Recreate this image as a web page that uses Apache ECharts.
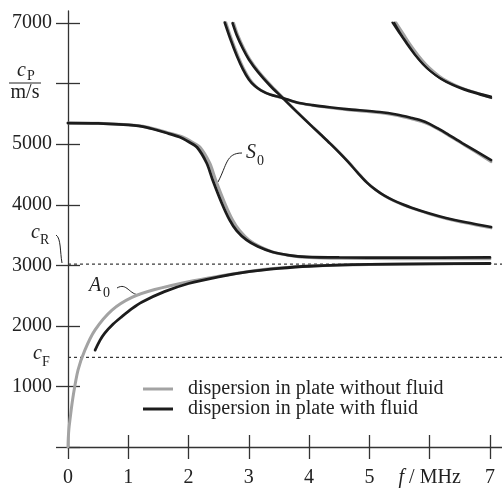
<!DOCTYPE html>
<html>
<head>
<meta charset="utf-8">
<script src="https://cdn.jsdelivr.net/npm/echarts@6.0.0/dist/echarts.min.js"></script>
<style>
  html, body { margin: 0; padding: 0; background: #fff; }
  #chart { width: 502px; height: 488px; }
</style>
</head>
<body>
<div id="chart"></div>
<script>
// axis ticks / labels
const xTicks = [0, 1, 2, 3, 4, 5, 6, 7]
const xLabels = ['0', '1', '2', '3', '4', '5', '{it|f} / MHz', '7']
const yTicks = [0, 1000, 2000, 3000, 4000, 5000, 6000, 7000]
const yLabels = ['', '1000', '2000', '3000', '4000', '5000', '', '7000']

// reference velocities (m/s)
const cR = 3020
const cF = 1480

// [f in MHz, c_P in m/s] -- plate without fluid (grey)
const s0Free = [[0, 5350], [0.5, 5345], [1, 5320], [1.3, 5285], [1.64, 5195], [1.9, 5120], [2.05, 5040], [2.19, 4950], [2.35, 4690], [2.45, 4410], [2.6, 4030], [2.73, 3750], [2.85, 3570], [3.0, 3420], [3.2, 3300], [3.43, 3210], [3.7, 3160], [4.0, 3130], [4.5, 3115], [5.5, 3110], [7, 3110]]
const a0Free = [[0, 0], [0.005, 150], [0.015, 300], [0.03, 430], [0.083, 825], [0.166, 1270], [0.28, 1600], [0.447, 1930], [0.73, 2260], [1.06, 2470], [1.44, 2600], [2.0, 2730], [2.5, 2820], [3.0, 2900], [3.5, 2955], [4, 2990], [5, 3015], [6, 3025], [7, 3030]]
const m1Free = [[2.62, 7010], [2.72, 6720], [2.82, 6460], [2.92, 6240], [3.02, 6070], [3.12, 5955], [3.22, 5880], [3.37, 5815], [3.58, 5755], [3.82, 5680], [4.08, 5635], [4.36, 5598], [4.64, 5567], [5.19, 5515], [5.47, 5472], [5.73, 5410], [5.87, 5372], [6.01, 5315], [6.15, 5240], [6.29, 5160], [6.56, 4995], [7.02, 4710]]
const m2Free = [[2.75, 7000], [2.82, 6800], [2.92, 6580], [3.02, 6400], [3.17, 6195], [3.37, 5970], [3.58, 5755], [3.82, 5515], [4.08, 5268], [4.22, 5137], [4.37, 4995], [4.52, 4847], [4.67, 4690], [4.82, 4520], [4.97, 4360], [5.12, 4235], [5.27, 4135], [5.42, 4057], [5.57, 3993], [5.72, 3937], [6.02, 3840], [6.29, 3767], [6.62, 3694], [7.02, 3615]]
const m3Free = [[5.44, 7010], [5.56, 6830], [5.67, 6660], [5.81, 6470], [5.94, 6320], [6.08, 6190], [6.22, 6085], [6.41, 5985], [6.6, 5905], [6.84, 5830], [7.02, 5765]]

// plate with fluid (black)
const s0Fluid = [[0, 5350], [0.5, 5345], [1, 5318], [1.3, 5280], [1.64, 5185], [1.85, 5118], [2.0, 5040], [2.14, 4950], [2.3, 4690], [2.4, 4410], [2.55, 4030], [2.68, 3750], [2.8, 3570], [2.96, 3420], [3.15, 3310], [3.39, 3220], [3.65, 3170], [3.96, 3140], [4.5, 3130], [5.5, 3128], [7, 3130]]
const a0Fluid = [[0.45, 1600], [0.53, 1760], [0.61, 1880], [0.75, 2030], [0.89, 2150], [1.06, 2285], [1.23, 2395], [1.6, 2565], [2.0, 2700], [2.5, 2810], [3.0, 2895], [3.5, 2950], [4, 2985], [5, 3015], [6, 3025], [7, 3030]]
const m1Fluid = [[2.6, 7010], [2.7, 6720], [2.8, 6460], [2.9, 6240], [3.0, 6070], [3.1, 5960], [3.2, 5890], [3.35, 5820], [3.56, 5765], [3.8, 5690], [4.06, 5646], [4.34, 5610], [4.62, 5580], [5.17, 5531], [5.45, 5490], [5.71, 5432], [5.85, 5395], [5.99, 5340], [6.13, 5265], [6.27, 5185], [6.54, 5020], [7.02, 4738]]
const m2Fluid = [[2.73, 7000], [2.8, 6800], [2.9, 6580], [3.0, 6400], [3.15, 6195], [3.35, 5970], [3.56, 5765], [3.8, 5530], [4.06, 5283], [4.2, 5152], [4.35, 5010], [4.5, 4862], [4.65, 4705], [4.8, 4535], [4.95, 4375], [5.1, 4250], [5.25, 4150], [5.4, 4072], [5.55, 4008], [5.7, 3952], [6.0, 3856], [6.27, 3782], [6.6, 3710], [7.02, 3632]]
const m3Fluid = [[5.38, 7010], [5.5, 6830], [5.61, 6670], [5.75, 6480], [5.88, 6330], [6.02, 6200], [6.16, 6100], [6.35, 6000], [6.54, 5925], [6.78, 5850], [7.02, 5790]]
const m3bFluid = [[5.41, 7010], [5.53, 6810], [5.64, 6650], [5.78, 6455], [5.91, 6305], [6.05, 6175], [6.19, 6075], [6.38, 5975], [6.57, 5900], [6.81, 5825], [7.02, 5765]]

const FREE = 'dispersion in plate without fluid'
const FLUID = 'dispersion in plate with fluid'
const grey = '#a3a3a3'
const black = '#1c1c1c'
const ink = '#222'
const serif = 'serif'
const graphicFont = '"Liberation Serif"'

function curve(name, data, color, width) {
  return {
    name: name,
    type: 'line',
    data: data,
    smooth: 0.3,
    showSymbol: false,
    symbol: 'none',
    silent: true,
    itemStyle: { color: color },
    lineStyle: { color: color, width: width, cap: 'round' },
    animation: false
  }
}

function dotted(value) {
  return {
    name: 'ref' + value,
    type: 'line',
    data: [[0, value], [7.2, value]],
    symbol: 'none',
    silent: true,
    lineStyle: { color: '#333', width: 1.2, type: [3, 3] },
    animation: false
  }
}

function txt(text, x, y, size, italic, align) {
  return {
    type: 'text',
    x: x,
    y: y,
    silent: true,
    style: {
      text: text,
      fill: ink,
      font: (italic ? 'italic ' : '') + size + 'px ' + graphicFont,
      textAlign: align || 'left',
      textVerticalAlign: 'middle'
    }
  }
}

function leader(x1, y1, cpx1, cpy1, cpx2, cpy2, x2, y2) {
  return {
    type: 'bezierCurve',
    silent: true,
    shape: { x1, y1, cpx1, cpy1, cpx2, cpy2, x2, y2 },
    style: { stroke: ink, lineWidth: 1, fill: null }
  }
}

const axisColor = '#333'
const chart = echarts.init(document.getElementById('chart'))

const option = {
  backgroundColor: '#fff',
  animation: false,
  textStyle: { fontFamily: serif },
  grid: { left: 68, top: 11, width: 434, height: 436 },
  legend: {
    data: [FREE, FLUID],
    orient: 'vertical',
    left: 143,
    top: 379,
    padding: 0,
    icon: 'rect',
    itemWidth: 30,
    itemHeight: 3,
    itemGap: 0,
    textStyle: { fontFamily: serif, fontSize: 20, color: ink, padding: [0, 0, 0, 10] }
  },
  xAxis: [{
    type: 'value',
    min: 0,
    max: 7.2,
    position: 'bottom',
    axisLine: { show: true, lineStyle: { color: axisColor, width: 1.3 } },
    axisTick: { show: true, inside: false, length: 12, customValues: xTicks, lineStyle: { color: axisColor, width: 1.3 } },
    axisLabel: {
      customValues: xTicks,
      margin: 21,
      fontFamily: serif,
      fontSize: 20,
      color: ink,
      formatter: v => xLabels[xTicks.indexOf(v)] || '',
      rich: { it: { fontFamily: serif, fontSize: 20, fontStyle: 'italic', color: ink } }
    },
    splitLine: { show: false }
  }, {
    type: 'value',
    min: 0,
    max: 7.2,
    position: 'bottom',
    offset: 0,
    axisLine: { show: false },
    axisTick: { show: true, inside: true, length: 12, customValues: xTicks, lineStyle: { color: axisColor, width: 1.3 } },
    axisLabel: { show: false },
    splitLine: { show: false }
  }],
  yAxis: [{
    type: 'value',
    min: 0,
    max: 7200,
    position: 'left',
    axisLine: { show: true, lineStyle: { color: axisColor, width: 1.3 } },
    axisTick: { show: true, inside: false, length: 12, customValues: yTicks, lineStyle: { color: axisColor, width: 1.3 } },
    axisLabel: {
      customValues: yTicks,
      margin: 16,
      fontFamily: serif,
      fontSize: 20,
      color: ink,
      formatter: v => yLabels[yTicks.indexOf(v)] || ''
    },
    splitLine: { show: false }
  }, {
    type: 'value',
    min: 0,
    max: 7200,
    position: 'left',
    offset: 0,
    axisLine: { show: false },
    axisTick: { show: true, inside: true, length: 12, customValues: yTicks, lineStyle: { color: axisColor, width: 1.3 } },
    axisLabel: { show: false },
    splitLine: { show: false }
  }],
  series: [
    dotted(cR),
    dotted(cF),
    curve(FREE, s0Free, grey, 3),
    curve(FREE, a0Free, grey, 3),
    curve(FREE, m1Free, grey, 2.6),
    curve(FREE, m2Free, grey, 2.6),
    curve(FREE, m3Free, grey, 2.6),
    curve(FLUID, s0Fluid, black, 2.8),
    curve(FLUID, a0Fluid, black, 2.8),
    curve(FLUID, m1Fluid, black, 2.6),
    curve(FLUID, m2Fluid, black, 2.6),
    curve(FLUID, m3Fluid, black, 2),
    curve(FLUID, m3bFluid, black, 2)
  ],
  graphic: [
    // c_P / (m/s) in place of the 6000 label
    txt('c', 17, 71, 20, true),
    txt('P', 27, 76, 14, false),
    { type: 'line', silent: true, shape: { x1: 9, y1: 83, x2: 41, y2: 83 }, style: { stroke: ink, lineWidth: 1 } },
    txt('m/s', 25, 93, 20, false, 'center'),
    // c_R, c_F
    txt('c', 31, 233, 20, true),
    txt('R', 40, 240, 14, false),
    leader(56, 235, 61, 238, 60, 252, 62, 263),
    txt('c', 33, 354, 20, true),
    txt('F', 42, 362, 14, false),
    // mode labels
    txt('S', 246, 153, 20, true),
    txt('0', 257, 161, 14, false),
    leader(218, 182, 227, 165, 226, 153, 242, 153),
    txt('A', 89, 286, 20, true),
    txt('0', 103, 293, 14, false),
    leader(117, 288, 127, 282, 129, 295, 140, 295)
  ]
}

chart.setOption(option)

// redraw once the serif face is ready, labels may have been drawn with a fallback
if (document.fonts && document.fonts.load) {
  Promise.all([
    document.fonts.load('20px serif'),
    document.fonts.load('italic 20px serif'),
    document.fonts.load('20px ' + graphicFont)
  ]).then(() => {
    chart.setOption(option, true)
  }).catch(() => {})
}
</script>
</body>
</html>
